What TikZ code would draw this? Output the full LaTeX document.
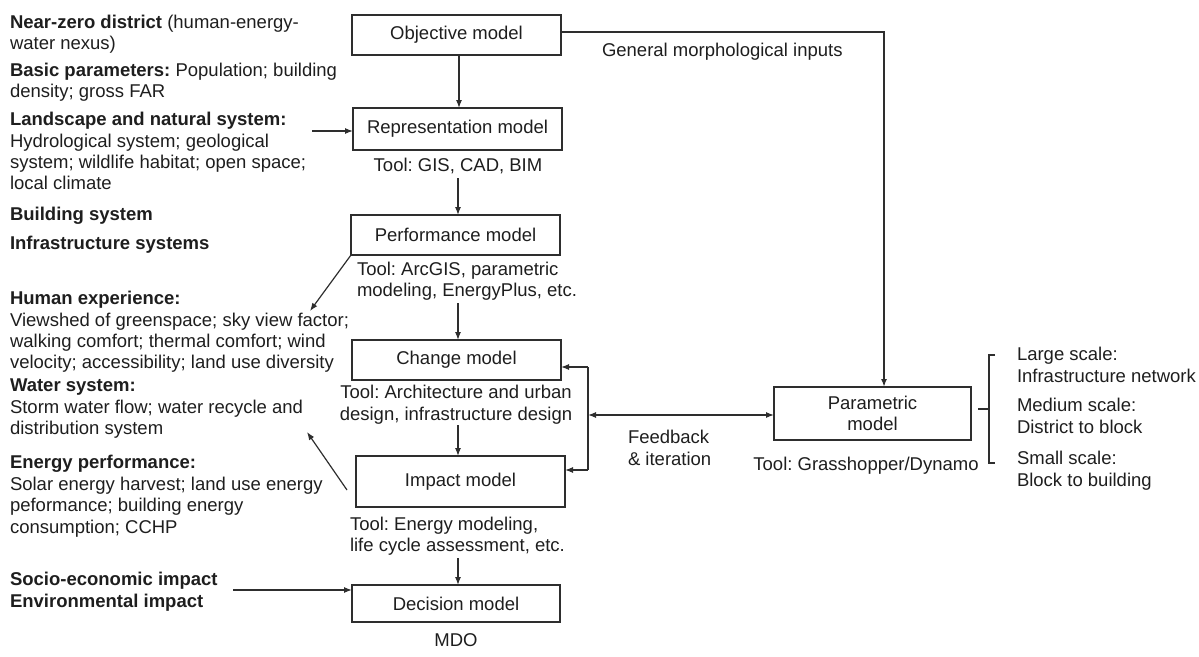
\documentclass[tikz,border=0pt]{standalone}
\usepackage{fontspec}
\setmainfont{Liberation Sans}
\usetikzlibrary{arrows.meta}
\definecolor{ink}{HTML}{1E1E1E}
\definecolor{ln}{HTML}{2E2E2E}
\frenchspacing
\begin{document}
\begin{tikzpicture}[x=1pt,y=-1pt,
  every node/.style={font=\fontsize{18.5}{21.5}\selectfont\frenchspacing, text=ink, inner sep=0pt, outer sep=0pt},
  lt/.style={anchor=base west},
  ct/.style={anchor=base},
  box/.style n args={2}{draw=ln, line width=1.2pt, minimum width=#1, minimum height=#2},
  arr/.style={draw=ln, line width=1.2pt, -{Latex[length=8pt,width=6pt]}},
  arrb/.style={draw=ln, line width=1.2pt, {Latex[length=8pt,width=6pt]}-{Latex[length=8pt,width=6pt]}},
  ln/.style={draw=ln, line width=1.2pt}
]
\useasboundingbox (0,0) rectangle (1199,656);

% left column texts
\node[lt] (l1) at (10,28) {\textbf{Near-zero district} (human-energy-};
\node[lt] (l2) at (10,49) {water nexus)};
\node[lt] (l3) at (10,76) {\textbf{Basic parameters:} Population; building};
\node[lt] (l4) at (10,97) {density; gross FAR};
\node[lt] (l5) at (10,125) {\textbf{Landscape and natural system:}};
\node[lt] (l6) at (10,147) {Hydrological system; geological};
\node[lt] (l7) at (10,168) {system; wildlife habitat; open space;};
\node[lt] (l8) at (10,189) {local climate};
\node[lt] (l9) at (10,220) {\textbf{Building system}};
\node[lt] (l10) at (10,249) {\textbf{Infrastructure systems}};
\node[lt] (l11) at (10,304) {\textbf{Human experience:}};
\node[lt] (l12) at (10,326) {Viewshed of greenspace; sky view factor;};
\node[lt] (l13) at (10,347) {walking comfort; thermal comfort; wind};
\node[lt] (l14) at (10,368) {velocity; accessibility; land use diversity};
\node[lt] (l15) at (10,391) {\textbf{Water system:}};
\node[lt] (l16) at (10,413) {Storm water flow; water recycle and};
\node[lt] (l17) at (10,434) {distribution system};
\node[lt] (l18) at (10,468) {\textbf{Energy performance:}};
\node[lt] (l19) at (10,490) {Solar energy harvest; land use energy};
\node[lt] (l20) at (10,511) {peformance; building energy};
\node[lt] (l21) at (10,533) {consumption; CCHP};
\node[lt] (l22) at (10,585) {\textbf{Socio-economic impact}};
\node[lt] (l23) at (10,607) {\textbf{Environmental impact}};

% central boxes
\node[box={209pt}{40pt}] (obj) at (456.5,35) {Objective model};
\node[box={209pt}{42pt}] (rep) at (457.5,129) {Representation model};
\node[box={209pt}{40pt}] (perf) at (455.5,235) {Performance model};
\node[box={209pt}{40pt}] (chg) at (456.5,360) {Change model};
\node[box={209pt}{51pt}] (imp) at (460.5,481.5) {Impact model};
\node[box={208pt}{37pt}] (dec) at (456,603.5) {Decision model};
\node[box={197pt}{53pt}, align=center] (par) at (872.5,413.5) {Parametric\\model};

% tool texts
\node[ct] (repT) at (458,171) {Tool: GIS, CAD, BIM};
\node[lt] (perfT1) at (357,275) {Tool: ArcGIS, parametric};
\node[lt] (perfT2) at (357,296) {modeling, EnergyPlus, etc.};
\node[ct] (chgT1) at (456,398) {Tool: Architecture and urban};
\node[ct] (chgT2) at (456,420) {design, infrastructure design};
\node[lt] (impT1) at (350,530) {Tool: Energy modeling,};
\node[lt] (impT2) at (350,551) {life cycle assessment, etc.};
\node[ct] (mdo) at (456,646) {MDO};
\node[ct] (parT) at (866,470) {Tool: Grasshopper/Dynamo};
\node[lt] (gmi) at (602,56) {General morphological inputs};
\node[lt] (fb1) at (628,443) {Feedback};
\node[lt] (fb2) at (628,465) {\& iteration};

% right texts
\node[lt] (r1) at (1017,360) {Large scale:};
\node[lt] (r2) at (1017,382) {Infrastructure network};
\node[lt] (r3) at (1017,411) {Medium scale:};
\node[lt] (r4) at (1017,433) {District to block};
\node[lt] (r5) at (1017,464) {Small scale:};
\node[lt] (r6) at (1017,486) {Block to building};

% coordinates
\coordinate (c0) at (459,0);
\coordinate (c1) at (458,178);
\coordinate (c2) at (458,303);
\coordinate (c3) at (458,425);
\coordinate (c4) at (458,558);
\coordinate (la) at (312,131);
\coordinate (sa) at (233,590);
\coordinate (d1) at (310,311);
\coordinate (d2a) at (347,490);
\coordinate (d2b) at (307,432);
\coordinate (fa) at (588,367);
\coordinate (fm) at (588,415);
\coordinate (fb) at (588,470);
\coordinate (mg) at (884,32);
\coordinate (bx) at (989,0);
\coordinate (bt) at (995,355);
\coordinate (bb) at (995,463);
\coordinate (bm) at (978,409);

% connectors
\draw[arr] (obj.south -| c0) -- (c0 |- rep.north);
\draw[arr] (c1) -- (c1 |- perf.north);
\draw[arr] (c2) -- (c2 |- chg.north);
\draw[arr] (c3) -- (c3 |- imp.north);
\draw[arr] (c4) -- (c4 |- dec.north);
\draw[arr] (la) -- (la -| rep.west);
\draw[arr] (sa) -- (sa -| dec.west);
\draw[arr] (perf.south west) -- (d1);
\draw[arr] (d2a) -- (d2b);
\draw[ln] (fa) -- (fb);
\draw[arr] (fa) -- (fa -| chg.east);
\draw[arr] (fb) -- (fb -| imp.east);
\draw[arrb] (fm) -- (fm -| par.west);
\draw[draw=ln, line width=1.8pt, -{Latex[length=8pt,width=6pt]}] (obj.east |- mg) -- (mg) -- (mg |- par.north);
\draw[ln] (bt) -- (bt -| bx) -- (bx |- bb) -- (bb);
\draw[ln] (bm) -- (bm -| bx);
\end{tikzpicture}
\end{document}
